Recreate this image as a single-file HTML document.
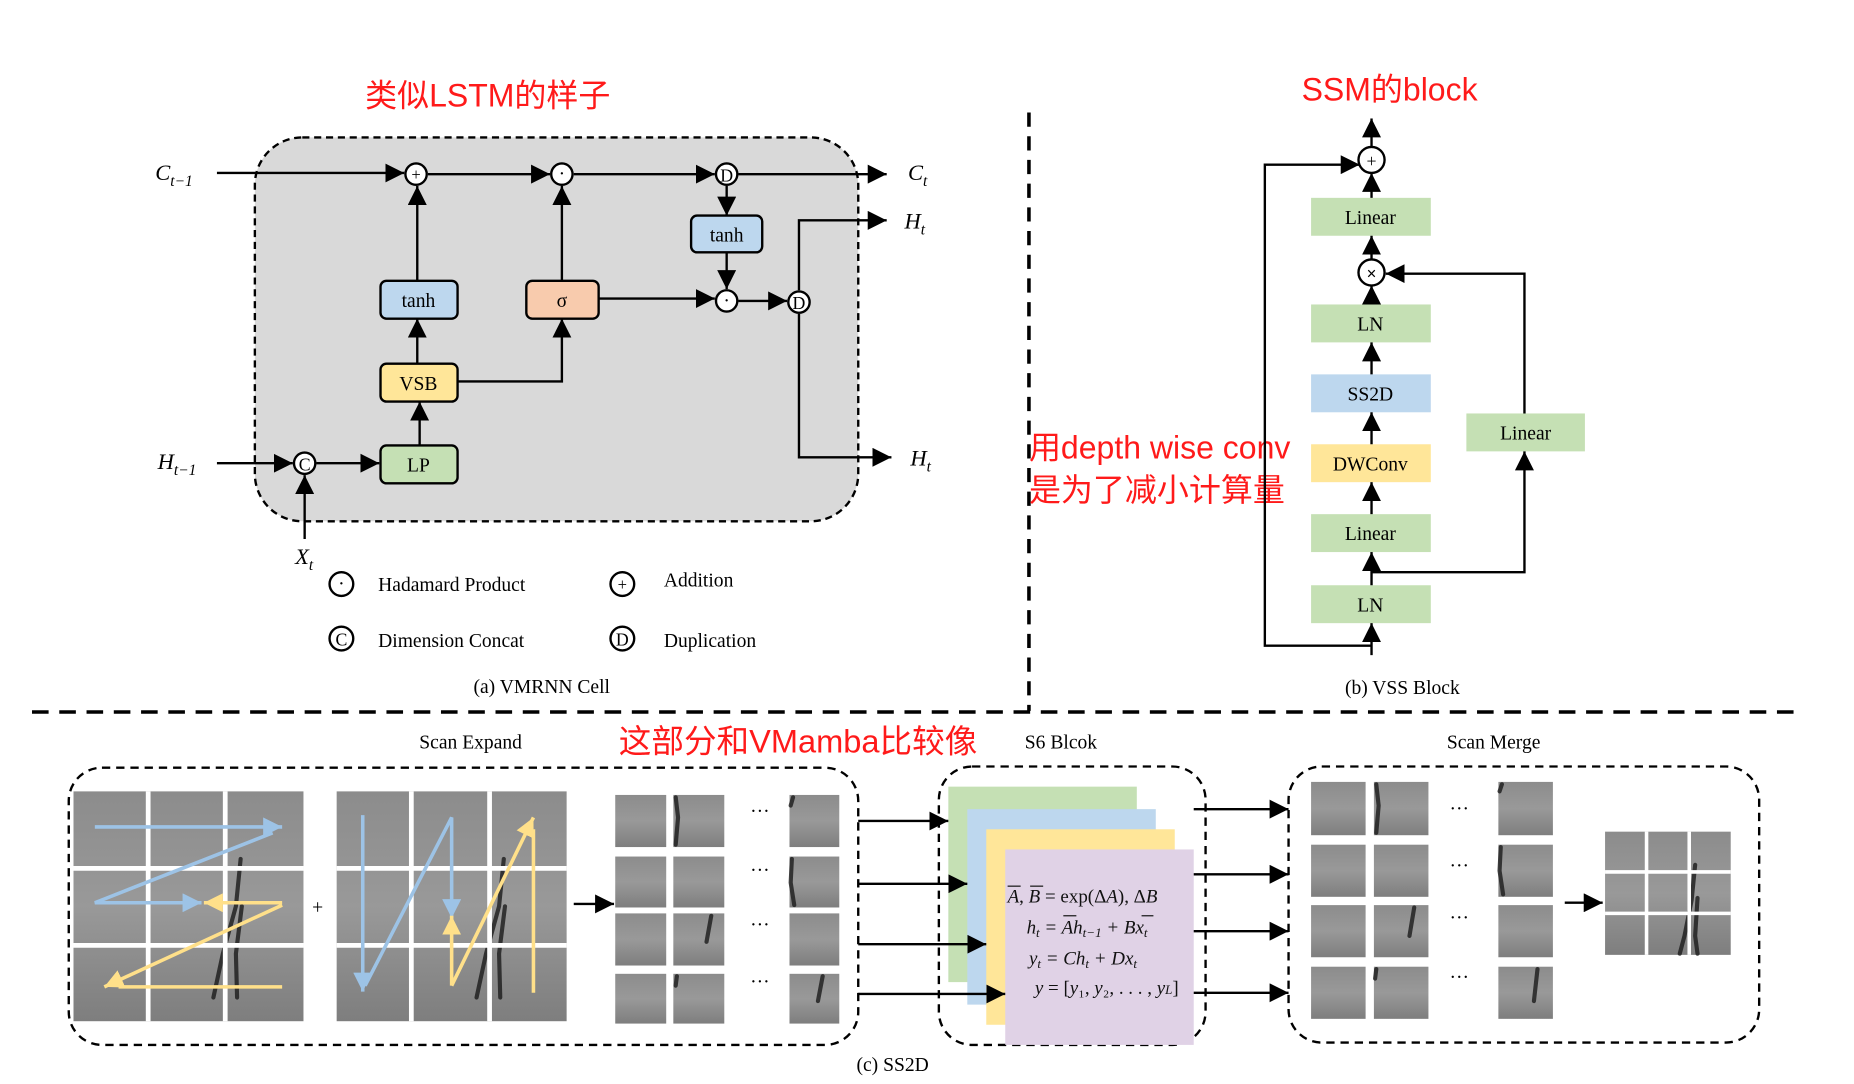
<!DOCTYPE html>
<html><head><meta charset="utf-8"><style>
html,body{margin:0;padding:0;background:#fff;width:1854px;height:1084px;overflow:hidden}
svg{display:block}
.t{font-family:"Liberation Serif",serif;font-size:16.5px;fill:#000}
.r{font-family:"Liberation Sans","Noto Sans CJK SC",sans-serif;fill:#ff1a1a}
.m{font-family:"Liberation Serif",serif;font-style:italic;font-size:19px}
</style></head><body>
<svg width="1854" height="1084" viewBox="0 0 1564 915" preserveAspectRatio="none" xmlns="http://www.w3.org/2000/svg">
<defs>
<marker id="a" markerUnits="userSpaceOnUse" markerWidth="18" markerHeight="16" refX="16" refY="8" orient="auto"><path d="M0,0 L16,8 L0,16 Z" fill="#000"/></marker>
<marker id="bl" markerUnits="userSpaceOnUse" markerWidth="18" markerHeight="16" refX="16" refY="8" orient="auto"><path d="M0,0 L16,8 L0,16 Z" fill="#9dc3e6"/></marker>
<marker id="ye" markerUnits="userSpaceOnUse" markerWidth="18" markerHeight="16" refX="16" refY="8" orient="auto"><path d="M0,0 L16,8 L0,16 Z" fill="#ffe08a"/></marker>
<linearGradient id="g" x1="0" y1="0" x2="0" y2="1"><stop offset="0" stop-color="#8c8c8c"/><stop offset=".5" stop-color="#999"/><stop offset="1" stop-color="#7e7e7e"/></linearGradient>
</defs>
<rect width="1564" height="915" fill="#fff"/>

<!-- (a) -->
<text x="308" y="90" class="r" font-size="27">类似LSTM的样子</text>
<rect x="215" y="116" width="509" height="324" rx="40" fill="#d9d9d9" stroke="#000" stroke-width="2" stroke-dasharray="6,4"/>
<g stroke="#000" stroke-width="2" fill="none">
<line x1="183" y1="146" x2="341" y2="146" marker-end="url(#a)"/>
<line x1="361" y1="147" x2="464" y2="147" marker-end="url(#a)"/>
<line x1="484" y1="147" x2="603" y2="147" marker-end="url(#a)"/>
<line x1="623" y1="147" x2="748" y2="147" marker-end="url(#a)"/>
<line x1="613" y1="157" x2="613" y2="182" marker-end="url(#a)"/>
<line x1="613" y1="213" x2="613" y2="244" marker-end="url(#a)"/>
<line x1="623" y1="254" x2="664" y2="254" marker-end="url(#a)"/>
<polyline points="674,245 674,186 748,186" marker-end="url(#a)"/>
<polyline points="674,265 674,386 752,386" marker-end="url(#a)"/>
<line x1="352" y1="237" x2="352" y2="157" marker-end="url(#a)"/>
<line x1="474" y1="237" x2="474" y2="157" marker-end="url(#a)"/>
<line x1="505" y1="252" x2="603" y2="252" marker-end="url(#a)"/>
<line x1="352" y1="307" x2="352" y2="269" marker-end="url(#a)"/>
<polyline points="386,322 474,322 474,269" marker-end="url(#a)"/>
<line x1="354" y1="376" x2="354" y2="339" marker-end="url(#a)"/>
<line x1="183" y1="391" x2="247" y2="391" marker-end="url(#a)"/>
<line x1="267" y1="391" x2="320" y2="391" marker-end="url(#a)"/>
<line x1="257" y1="455" x2="257" y2="401" marker-end="url(#a)"/>
</g>
<g stroke="#000" stroke-width="2">
<rect x="321" y="237" width="65" height="32" rx="5" fill="#bdd7ee"/>
<rect x="444" y="237" width="61" height="32" rx="5" fill="#f8cbad"/>
<rect x="583" y="182" width="60" height="31" rx="5" fill="#bdd7ee"/>
<rect x="321" y="307" width="65" height="32" rx="5" fill="#ffe699"/>
<rect x="321" y="376" width="65" height="32" rx="5" fill="#c5e0b4"/>
<circle cx="351" cy="147" r="9" fill="#fff"/><circle cx="474" cy="147" r="9" fill="#fff"/>
<circle cx="613" cy="147" r="9" fill="#fff"/><circle cx="613" cy="254" r="9" fill="#fff"/>
<circle cx="674" cy="255" r="9" fill="#fff"/><circle cx="257" cy="391" r="9" fill="#fff"/>
<circle cx="288" cy="493" r="10" fill="#fff"/><circle cx="525" cy="493" r="10" fill="#fff"/>
<circle cx="288" cy="539" r="10" fill="#fff"/><circle cx="525" cy="539" r="10" fill="#fff"/>
</g>
<g class="t" text-anchor="middle">
<text x="351" y="152" font-size="14">+</text><text x="474" y="152">·</text>
<text x="613" y="153" font-size="15">D</text><text x="613" y="259">·</text>
<text x="674" y="261" font-size="15">D</text><text x="257" y="397" font-size="15">C</text>
<text x="288" y="498">·</text><text x="525" y="498" font-size="14">+</text>
<text x="288" y="545" font-size="15">C</text><text x="525" y="545" font-size="15">D</text>
<text x="353" y="259">tanh</text><text x="474" y="259">σ</text><text x="613" y="204">tanh</text>
<text x="353" y="329">VSB</text><text x="353" y="398">LP</text>
<text x="457" y="585">(a) VMRNN Cell</text>
</g>
<g class="t" font-size="17"><text x="319" y="499">Hadamard Product</text><text x="560" y="495">Addition</text>
<text x="319" y="546">Dimension Concat</text><text x="560" y="546">Duplication</text></g>
<text x="131" y="152" class="m">C<tspan font-size="13" dy="5">t−1</tspan></text>
<text x="766" y="152" class="m">C<tspan font-size="13" dy="5">t</tspan></text>
<text x="763" y="193" class="m">H<tspan font-size="13" dy="5">t</tspan></text>
<text x="768" y="393" class="m">H<tspan font-size="13" dy="5">t</tspan></text>
<text x="133" y="396" class="m">H<tspan font-size="13" dy="5">t−1</tspan></text>
<text x="249" y="476" class="m">X<tspan font-size="13" dy="5">t</tspan></text>

<!-- separators -->
<line x1="868" y1="95" x2="868" y2="600" stroke="#000" stroke-width="3" stroke-dasharray="12,8"/>
<line x1="27" y1="601" x2="1518" y2="601" stroke="#000" stroke-width="3" stroke-dasharray="14,9"/>

<!-- (b) -->
<text x="1098" y="85" class="r" font-size="27">SSM的block</text>
<text x="868" y="387" class="r" font-size="27">用depth wise conv</text>
<text x="868" y="423" class="r" font-size="27">是为了减小计算量</text>
<g>
<rect x="1106" y="167" width="101" height="32" fill="#c5e0b4"/>
<rect x="1106" y="257" width="101" height="32" fill="#c5e0b4"/>
<rect x="1106" y="316" width="101" height="32" fill="#bdd7ee"/>
<rect x="1106" y="375" width="101" height="32" fill="#ffe699"/>
<rect x="1106" y="434" width="101" height="32" fill="#c5e0b4"/>
<rect x="1106" y="494" width="101" height="32" fill="#c5e0b4"/>
<rect x="1237" y="349" width="100" height="32" fill="#c5e0b4"/>
</g>
<g stroke="#000" stroke-width="2" fill="none">
<line x1="1157" y1="553" x2="1157" y2="526" marker-end="url(#a)"/>
<line x1="1157" y1="494" x2="1157" y2="466" marker-end="url(#a)"/>
<line x1="1157" y1="434" x2="1157" y2="407" marker-end="url(#a)"/>
<line x1="1157" y1="375" x2="1157" y2="348" marker-end="url(#a)"/>
<line x1="1157" y1="316" x2="1157" y2="289" marker-end="url(#a)"/>
<line x1="1157" y1="257" x2="1157" y2="241" marker-end="url(#a)"/>
<line x1="1157" y1="219" x2="1157" y2="199" marker-end="url(#a)"/>
<line x1="1157" y1="167" x2="1157" y2="146" marker-end="url(#a)"/>
<line x1="1157" y1="125" x2="1157" y2="100" marker-end="url(#a)"/>
<polyline points="1157,545 1067,545 1067,139 1147,139" marker-end="url(#a)"/>
<polyline points="1157,483 1286,483 1286,381" marker-end="url(#a)"/>
<polyline points="1286,349 1286,231 1169,231" marker-end="url(#a)"/>
</g>
<circle cx="1157" cy="230" r="11" fill="#fff" stroke="#000" stroke-width="2"/>
<circle cx="1157" cy="135" r="11" fill="#fff" stroke="#000" stroke-width="2"/>
<g class="t" text-anchor="middle">
<text x="1157" y="236" font-size="15" font-weight="bold">×</text><text x="1157" y="141" font-size="15">+</text>
<text x="1156" y="189">Linear</text><text x="1156" y="279">LN</text><text x="1156" y="338">SS2D</text>
<text x="1156" y="397">DWConv</text><text x="1156" y="456">Linear</text><text x="1156" y="516">LN</text>
<text x="1287" y="371">Linear</text>
<text x="1183" y="586">(b) VSS Block</text>
<text x="397" y="632">Scan Expand</text><text x="895" y="632">S6 Blcok</text><text x="1260" y="632">Scan Merge</text>
<text x="753" y="904">(c) SS2D</text>
</g>

<!-- (c) -->
<text x="522" y="635" class="r" font-size="27.5">这部分和VMamba比较像</text>
<rect x="58" y="648" width="666" height="234" rx="28" fill="none" stroke="#000" stroke-width="2" stroke-dasharray="7,5"/>
<rect x="792" y="647" width="225" height="235" rx="28" fill="none" stroke="#000" stroke-width="2" stroke-dasharray="7,5"/>
<rect x="1087" y="647" width="397" height="233" rx="28" fill="none" stroke="#000" stroke-width="2" stroke-dasharray="7,5"/>
<g fill="url(#g)">
<rect x="62" y="668" width="194" height="194"/>
<rect x="284" y="668" width="194" height="194"/>
<rect x="519" y="671" width="43" height="44"/><rect x="568" y="671" width="43" height="44"/><rect x="666" y="671" width="42" height="44"/>
<rect x="519" y="723" width="43" height="43"/><rect x="568" y="723" width="43" height="43"/><rect x="666" y="723" width="42" height="43"/>
<rect x="519" y="771" width="43" height="44"/><rect x="568" y="771" width="43" height="44"/><rect x="666" y="771" width="42" height="44"/>
<rect x="519" y="822" width="43" height="42"/><rect x="568" y="822" width="43" height="42"/><rect x="666" y="822" width="42" height="42"/>
<rect x="1106" y="660" width="46" height="45"/><rect x="1159" y="660" width="46" height="45"/><rect x="1264" y="660" width="46" height="45"/>
<rect x="1106" y="713" width="46" height="44"/><rect x="1159" y="713" width="46" height="44"/><rect x="1264" y="713" width="46" height="44"/>
<rect x="1106" y="764" width="46" height="44"/><rect x="1159" y="764" width="46" height="44"/><rect x="1264" y="764" width="46" height="44"/>
<rect x="1106" y="816" width="46" height="44"/><rect x="1159" y="816" width="46" height="44"/><rect x="1264" y="816" width="46" height="44"/>
<rect x="1354" y="702" width="106" height="104"/>
</g>
<g stroke="#1a1a1a" stroke-width="3.5" fill="none" stroke-linecap="round" opacity=".8">
<path d="M203,725 L199,765 L188,805 L180,842 M204,765 L199,805 L200,842"/>
<path d="M425,725 L421,765 L410,805 L402,842 M426,765 L421,805 L422,842"/>
<path d="M1430,730 L1427,760 L1421,790 L1417,805 M1432,758 L1430,790 L1432,805"/>
<path d="M570,673 L572,690 L570,713 M669,673 L667,680 M668,725 L667,745 L670,764 M600,773 L596,795 M694,824 L690,845 M571,824 L570,832"/>
<path d="M1161,662 L1163,680 L1161,703 M1267,662 L1265,668 M1266,715 L1265,735 L1268,755 M1193,766 L1189,790 M1297,818 L1294,845 M1161,818 L1160,826"/>
</g>
<g stroke="#fff" stroke-width="4">
<line x1="125" y1="668" x2="125" y2="862"/><line x1="190" y1="668" x2="190" y2="862"/>
<line x1="62" y1="733" x2="256" y2="733"/><line x1="62" y1="798" x2="256" y2="798"/>
<line x1="347" y1="668" x2="347" y2="862"/><line x1="413" y1="668" x2="413" y2="862"/>
<line x1="284" y1="733" x2="478" y2="733"/><line x1="284" y1="798" x2="478" y2="798"/>
<line x1="1389" y1="702" x2="1389" y2="806" stroke-width="3"/><line x1="1425" y1="702" x2="1425" y2="806" stroke-width="3"/>
<line x1="1354" y1="736" x2="1460" y2="736" stroke-width="3"/><line x1="1354" y1="771" x2="1460" y2="771" stroke-width="3"/>
</g>
<g stroke-width="3" fill="none">
<g stroke="#9dc3e6">
<line x1="80" y1="698" x2="238" y2="698" marker-end="url(#bl)"/>
<polyline points="230,703 80,762 170,762" marker-end="url(#bl)"/>
<line x1="306" y1="688" x2="306" y2="837" marker-end="url(#bl)"/>
<polyline points="308,832 381,690 381,775" marker-end="url(#bl)"/>
</g>
<g stroke="#ffe08a">
<line x1="238" y1="762" x2="172" y2="762" marker-end="url(#ye)"/>
<polyline points="238,764 88,833" marker-end="url(#ye)"/>
<line x1="238" y1="833" x2="100" y2="833"/>
<line x1="381" y1="832" x2="381" y2="773" marker-end="url(#ye)"/>
<line x1="381" y1="832" x2="450" y2="690" marker-end="url(#ye)"/>
<line x1="450" y1="838" x2="450" y2="700"/>
</g>
</g>
<text x="268" y="771" class="t" text-anchor="middle">+</text>
<g class="t" text-anchor="middle" font-size="18">
<text x="641" y="690">···</text><text x="641" y="740">···</text><text x="641" y="786">···</text><text x="641" y="834">···</text>
<text x="1231" y="688">···</text><text x="1231" y="736">···</text><text x="1231" y="780">···</text><text x="1231" y="830">···</text>
</g>
<rect x="800" y="664" width="159" height="165" fill="#c5e0b4"/>
<rect x="816" y="683" width="159" height="165" fill="#bdd7ee"/>
<rect x="832" y="700" width="159" height="165" fill="#ffe699"/>
<rect x="848" y="717" width="159" height="165" fill="#e0d2e6"/>
<g stroke="#000" stroke-width="2" fill="none">
<line x1="484" y1="763" x2="518" y2="763" marker-end="url(#a)"/>
<line x1="724" y1="693" x2="800" y2="693" marker-end="url(#a)"/>
<line x1="724" y1="746" x2="816" y2="746" marker-end="url(#a)"/>
<line x1="724" y1="797" x2="832" y2="797" marker-end="url(#a)"/>
<line x1="724" y1="839" x2="848" y2="839" marker-end="url(#a)"/>
<line x1="1007" y1="683" x2="1087" y2="683" marker-end="url(#a)"/>
<line x1="1007" y1="738" x2="1087" y2="738" marker-end="url(#a)"/>
<line x1="1007" y1="786" x2="1087" y2="786" marker-end="url(#a)"/>
<line x1="1007" y1="838" x2="1087" y2="838" marker-end="url(#a)"/>
<line x1="1320" y1="762" x2="1352" y2="762" marker-end="url(#a)"/>
</g>
<g font-family="Liberation Serif,serif" font-size="16" fill="#111">
<text x="850" y="762"><tspan font-style="italic">A</tspan>, <tspan font-style="italic">B</tspan> = exp(Δ<tspan font-style="italic">A</tspan>), Δ<tspan font-style="italic">B</tspan></text>
<text x="866" y="788" font-style="italic">h<tspan font-size="11" dy="3">t</tspan><tspan dy="-3"> = Ah</tspan><tspan font-size="11" dy="3">t−1</tspan><tspan dy="-3"> + Bx</tspan><tspan font-size="11" dy="3">t</tspan></text>
<text x="868" y="814" font-style="italic">y<tspan font-size="11" dy="3">t</tspan><tspan dy="-3"> = Ch</tspan><tspan font-size="11" dy="3">t</tspan><tspan dy="-3"> + Dx</tspan><tspan font-size="11" dy="3">t</tspan></text>
<text x="873" y="839"><tspan font-style="italic">y</tspan> = [<tspan font-style="italic">y</tspan>₁, <tspan font-style="italic">y</tspan>₂, . . . , <tspan font-style="italic">y<tspan font-size="11">L</tspan></tspan>]</text>
</g>
<g stroke="#111" stroke-width="1"><line x1="850" y1="748" x2="861" y2="748"/><line x1="869" y1="748" x2="880" y2="748"/><line x1="897" y1="773" x2="908" y2="773"/><line x1="963" y1="773" x2="973" y2="773"/></g>
</svg>
</body></html>
